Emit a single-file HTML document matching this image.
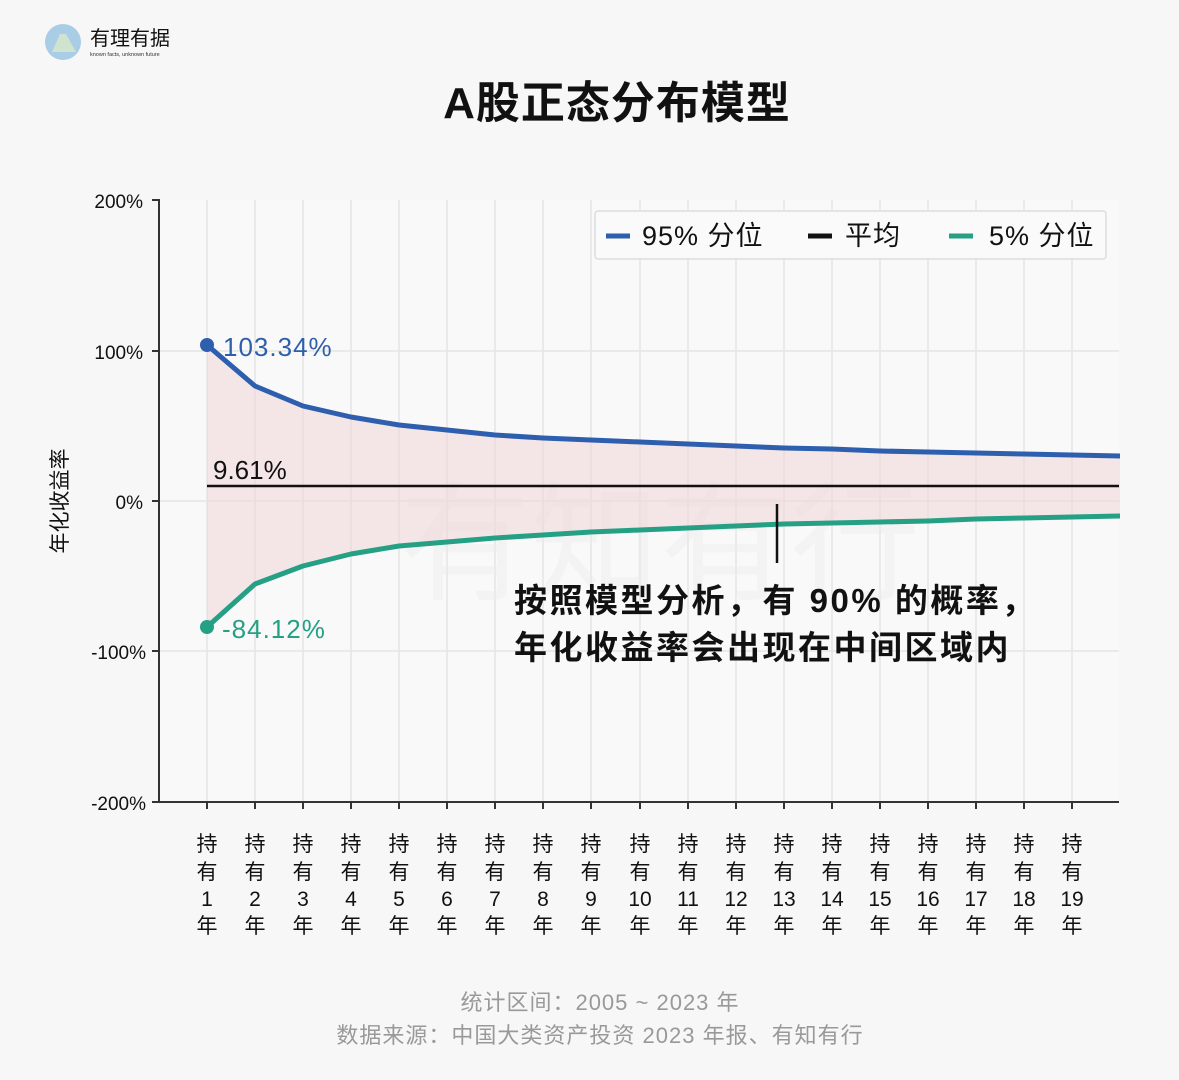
<!DOCTYPE html>
<html><head><meta charset="utf-8"><style>
body{margin:0;background:#f7f7f7;}
svg{display:block;font-family:"Liberation Sans","Noto Sans CJK SC",sans-serif;}
</style></head><body>
<svg width="1179" height="1080" viewBox="0 0 1179 1080">
<rect width="1179" height="1080" fill="#f7f7f7"/>
<!-- logo -->
<circle cx="63" cy="42" r="18" fill="#a9cde6"/>
<path d="M52 52 L60 34 L66 34 L76 52 Z" fill="#d8e8c8" opacity="0.8"/>
<text x="90" y="45" font-size="20" fill="#111">有理有据</text>
<text x="90" y="56" font-size="5.5" fill="#333">known facts, unknown future</text>
<text x="617" y="118" font-size="44" font-weight="bold" fill="#111" text-anchor="middle" letter-spacing="1">A股正态分布模型</text>
<!-- plot bg -->
<rect x="159" y="200" width="960" height="602" fill="#f9f9f9"/>
<g stroke="#e6e6e6" stroke-width="1.5">
<line x1="207" y1="200" x2="207" y2="802"/><line x1="255" y1="200" x2="255" y2="802"/><line x1="303" y1="200" x2="303" y2="802"/><line x1="351" y1="200" x2="351" y2="802"/><line x1="399" y1="200" x2="399" y2="802"/><line x1="447" y1="200" x2="447" y2="802"/><line x1="495" y1="200" x2="495" y2="802"/><line x1="543" y1="200" x2="543" y2="802"/><line x1="591" y1="200" x2="591" y2="802"/><line x1="640" y1="200" x2="640" y2="802"/><line x1="688" y1="200" x2="688" y2="802"/><line x1="736" y1="200" x2="736" y2="802"/><line x1="784" y1="200" x2="784" y2="802"/><line x1="832" y1="200" x2="832" y2="802"/><line x1="880" y1="200" x2="880" y2="802"/><line x1="928" y1="200" x2="928" y2="802"/><line x1="976" y1="200" x2="976" y2="802"/><line x1="1024" y1="200" x2="1024" y2="802"/><line x1="1072" y1="200" x2="1072" y2="802"/>
<line x1="159" y1="351" x2="1119" y2="351"/><line x1="159" y1="501" x2="1119" y2="501"/><line x1="159" y1="651" x2="1119" y2="651"/>
</g>
<!-- watermark -->
<text x="400" y="590" font-size="130" fill="#ececec" opacity="0.4">有知有行</text>
<!-- fill -->
<polygon fill="#f0d4d4" opacity="0.5" points="207,345 255,386 303,406 351,417 399,425 447,430 495,435 543,438 591,440 640,442 688,444 736,446 784,448 832,449 880,451 928,452 976,453 1024,454 1072,455 1120,456 1120,516 1072,517 1024,518 976,519 928,521 880,522 832,523 784,524 736,526 688,528 640,530 591,532 543,535 495,538 447,542 399,546 351,554 303,566 255,584 207,627"/>
<line x1="207" y1="486" x2="1119" y2="486" stroke="#111" stroke-width="2.5"/>
<polyline fill="none" stroke="#2e5fae" stroke-width="5" stroke-linejoin="round" points="207,345 255,386 303,406 351,417 399,425 447,430 495,435 543,438 591,440 640,442 688,444 736,446 784,448 832,449 880,451 928,452 976,453 1024,454 1072,455 1120,456"/>
<polyline fill="none" stroke="#26a085" stroke-width="5" stroke-linejoin="round" points="1120,516 1072,517 1024,518 976,519 928,521 880,522 832,523 784,524 736,526 688,528 640,530 591,532 543,535 495,538 447,542 399,546 351,554 303,566 255,584 207,627"/>
<circle cx="207" cy="345" r="7" fill="#2e5fae"/>
<circle cx="207" cy="627" r="7" fill="#26a085"/>
<text x="223" y="356" font-size="26" fill="#2e5fae" letter-spacing="1">103.34%</text>
<text x="222" y="638" font-size="26" fill="#26a085" letter-spacing="1">-84.12%</text>
<text x="213" y="479" font-size="26" fill="#111">9.61%</text>
<line x1="777" y1="504" x2="777" y2="563" stroke="#111" stroke-width="2.5"/>
<text x="514" y="612" font-size="33" font-weight="bold" fill="#111" letter-spacing="2.5">按照模型分析，有 90% 的概率，</text>
<text x="514" y="659" font-size="33" font-weight="bold" fill="#111" letter-spacing="2.5">年化收益率会出现在中间区域内</text>
<!-- axes -->
<line x1="159" y1="199" x2="159" y2="803" stroke="#333" stroke-width="2"/>
<line x1="158" y1="802" x2="1119" y2="802" stroke="#333" stroke-width="2"/>
<g stroke="#333" stroke-width="2">
<line x1="152" y1="200" x2="159" y2="200"/><line x1="152" y1="351" x2="159" y2="351"/><line x1="152" y1="501" x2="159" y2="501"/><line x1="152" y1="651" x2="159" y2="651"/><line x1="152" y1="802" x2="159" y2="802"/>
</g>
<g font-size="19" fill="#111" text-anchor="end">
<text x="143" y="208">200%</text><text x="143" y="359">100%</text><text x="143" y="509">0%</text><text x="146" y="659">-100%</text><text x="146" y="810">-200%</text>
</g>
<text transform="translate(67,501) rotate(-90)" font-size="21" fill="#111" text-anchor="middle">年化收益率</text>
<!-- legend -->
<rect x="595" y="211" width="511" height="48" rx="3" fill="#fafafa" stroke="#ddd" stroke-width="1.5"/>
<line x1="606" y1="236" x2="630" y2="236" stroke="#2e5fae" stroke-width="5"/>
<text x="642" y="245" font-size="27" fill="#111" letter-spacing="1">95% 分位</text>
<line x1="808" y1="236" x2="832" y2="236" stroke="#111" stroke-width="5"/>
<text x="845" y="245" font-size="27" fill="#111" letter-spacing="1">平均</text>
<line x1="949" y1="236" x2="973" y2="236" stroke="#26a085" stroke-width="5"/>
<text x="989" y="245" font-size="27" fill="#111" letter-spacing="1">5% 分位</text>
<!-- x labels -->
<g font-size="21" fill="#111" text-anchor="middle">
<g transform="translate(207,0)"><line x1="0" y1="802" x2="0" y2="809" stroke="#333" stroke-width="2"/><text y="851">持</text><text y="879">有</text><text y="906">1</text><text y="933">年</text></g>
<g transform="translate(255,0)"><line x1="0" y1="802" x2="0" y2="809" stroke="#333" stroke-width="2"/><text y="851">持</text><text y="879">有</text><text y="906">2</text><text y="933">年</text></g>
<g transform="translate(303,0)"><line x1="0" y1="802" x2="0" y2="809" stroke="#333" stroke-width="2"/><text y="851">持</text><text y="879">有</text><text y="906">3</text><text y="933">年</text></g>
<g transform="translate(351,0)"><line x1="0" y1="802" x2="0" y2="809" stroke="#333" stroke-width="2"/><text y="851">持</text><text y="879">有</text><text y="906">4</text><text y="933">年</text></g>
<g transform="translate(399,0)"><line x1="0" y1="802" x2="0" y2="809" stroke="#333" stroke-width="2"/><text y="851">持</text><text y="879">有</text><text y="906">5</text><text y="933">年</text></g>
<g transform="translate(447,0)"><line x1="0" y1="802" x2="0" y2="809" stroke="#333" stroke-width="2"/><text y="851">持</text><text y="879">有</text><text y="906">6</text><text y="933">年</text></g>
<g transform="translate(495,0)"><line x1="0" y1="802" x2="0" y2="809" stroke="#333" stroke-width="2"/><text y="851">持</text><text y="879">有</text><text y="906">7</text><text y="933">年</text></g>
<g transform="translate(543,0)"><line x1="0" y1="802" x2="0" y2="809" stroke="#333" stroke-width="2"/><text y="851">持</text><text y="879">有</text><text y="906">8</text><text y="933">年</text></g>
<g transform="translate(591,0)"><line x1="0" y1="802" x2="0" y2="809" stroke="#333" stroke-width="2"/><text y="851">持</text><text y="879">有</text><text y="906">9</text><text y="933">年</text></g>
<g transform="translate(640,0)"><line x1="0" y1="802" x2="0" y2="809" stroke="#333" stroke-width="2"/><text y="851">持</text><text y="879">有</text><text y="906">10</text><text y="933">年</text></g>
<g transform="translate(688,0)"><line x1="0" y1="802" x2="0" y2="809" stroke="#333" stroke-width="2"/><text y="851">持</text><text y="879">有</text><text y="906">11</text><text y="933">年</text></g>
<g transform="translate(736,0)"><line x1="0" y1="802" x2="0" y2="809" stroke="#333" stroke-width="2"/><text y="851">持</text><text y="879">有</text><text y="906">12</text><text y="933">年</text></g>
<g transform="translate(784,0)"><line x1="0" y1="802" x2="0" y2="809" stroke="#333" stroke-width="2"/><text y="851">持</text><text y="879">有</text><text y="906">13</text><text y="933">年</text></g>
<g transform="translate(832,0)"><line x1="0" y1="802" x2="0" y2="809" stroke="#333" stroke-width="2"/><text y="851">持</text><text y="879">有</text><text y="906">14</text><text y="933">年</text></g>
<g transform="translate(880,0)"><line x1="0" y1="802" x2="0" y2="809" stroke="#333" stroke-width="2"/><text y="851">持</text><text y="879">有</text><text y="906">15</text><text y="933">年</text></g>
<g transform="translate(928,0)"><line x1="0" y1="802" x2="0" y2="809" stroke="#333" stroke-width="2"/><text y="851">持</text><text y="879">有</text><text y="906">16</text><text y="933">年</text></g>
<g transform="translate(976,0)"><line x1="0" y1="802" x2="0" y2="809" stroke="#333" stroke-width="2"/><text y="851">持</text><text y="879">有</text><text y="906">17</text><text y="933">年</text></g>
<g transform="translate(1024,0)"><line x1="0" y1="802" x2="0" y2="809" stroke="#333" stroke-width="2"/><text y="851">持</text><text y="879">有</text><text y="906">18</text><text y="933">年</text></g>
<g transform="translate(1072,0)"><line x1="0" y1="802" x2="0" y2="809" stroke="#333" stroke-width="2"/><text y="851">持</text><text y="879">有</text><text y="906">19</text><text y="933">年</text></g>
</g>
<text x="600" y="1010" font-size="22" fill="#999" text-anchor="middle" letter-spacing="1">统计区间：2005 ~ 2023 年</text>
<text x="600" y="1043" font-size="22" fill="#999" text-anchor="middle" letter-spacing="1">数据来源：中国大类资产投资 2023 年报、有知有行</text>
</svg>
</body></html>
